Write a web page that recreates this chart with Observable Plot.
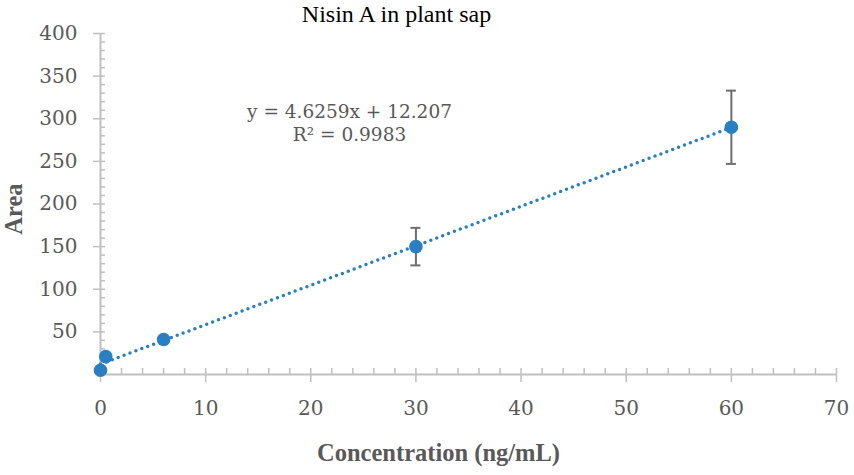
<!DOCTYPE html>
<html>
<head>
<meta charset="utf-8">
<script src="https://cdn.jsdelivr.net/npm/d3@7"></script>
<script src="https://cdn.jsdelivr.net/npm/@observablehq/plot@0.6"></script>
<style>
  html, body { margin: 0; padding: 0; background: white; }
</style>
</head>
<body>
<div id="chart"></div>
<script>
const title = "Nisin A in plant sap";
const xLabel = "Concentration (ng/mL)";
const yLabel = "Area";
const equation = "y = 4.6259x + 12.207\nR² = 0.9983";

const concentration = [0, 0.5, 6, 30, 60];
const area = [5, 21, 41, 150, 290];
const errorSd = [0, 0, 0, 22, 43];

const trendX = [0, 60];
const trendY = [12.2, 289.8];

const xMajor = [0, 10, 20, 30, 40, 50, 60, 70];
const xMinor = d3.range(0, 71, 2);
const yMajor = [50, 100, 150, 200, 250, 300, 350, 400];
const yMinor = d3.range(10, 401, 10);

const points = concentration.map((c, i) => ({x: c, y: area[i], lo: area[i] - errorSd[i], hi: area[i] + errorSd[i], e: errorSd[i]}));
const bars = points.filter(d => d.e > 0);
const trend = trendX.map((x, i) => ({x, y: trendY[i]}));

const axisGray = "#c0c0c0";
const textGray = "#595959";
const blue = "#2a7fc2";
const barGray = "#6e6e6e";

const chart = Plot.plot({
  width: 854,
  height: 475,
  marginLeft: 100,
  marginRight: 18,
  marginTop: 33,
  marginBottom: 101,
  x: {type: "linear", domain: [0, 70], label: null},
  y: {type: "linear", domain: [0, 400], label: null},
  style: {fontFamily: "DejaVu Serif", background: "white"},
  marks: [
    Plot.axisY({ticks: yMinor, tickSize: -5, text: null, stroke: axisGray, strokeWidth: 1.5, label: null}),
    Plot.axisY({ticks: yMajor, tickSize: 7, text: null, stroke: axisGray, strokeWidth: 1.5, label: null}),
    Plot.axisY({ticks: yMajor, tickSize: 0, tickPadding: 23, fill: textGray, fontSize: 20, label: null}),
    Plot.axisX({ticks: xMinor, tickSize: -6, text: null, stroke: axisGray, strokeWidth: 1.5, label: null}),
    Plot.axisX({ticks: xMajor, tickSize: 8, text: null, stroke: axisGray, strokeWidth: 1.5, label: null}),
    Plot.axisX({ticks: xMajor, tickSize: 0, tickPadding: 26, fill: textGray, fontSize: 20, label: null}),
    Plot.ruleX([0], {stroke: axisGray, strokeWidth: 2}),
    Plot.ruleY([0], {stroke: axisGray, strokeWidth: 2}),
    Plot.line(trend, {x: "x", y: "y", stroke: blue, strokeWidth: 3.5, strokeDasharray: "0,6.3", strokeLinecap: "round"}),
    Plot.ruleX(bars, {x: "x", y1: "lo", y2: "hi", stroke: barGray, strokeWidth: 2}),
    Plot.ruleY(bars, {y: "hi", x1: "x", x2: "x", insetLeft: -5, insetRight: -5, stroke: barGray, strokeWidth: 2}),
    Plot.ruleY(bars, {y: "lo", x1: "x", x2: "x", insetLeft: -5, insetRight: -5, stroke: barGray, strokeWidth: 2}),
    Plot.dot(points, {x: "x", y: "y", r: 6.8, fill: blue, stroke: "none"}),
    Plot.text([title], {frameAnchor: "top-left", dx: 296, dy: -19, textAnchor: "middle", lineAnchor: "middle", fontFamily: "Liberation Serif", fontSize: 24, fill: "black"}),
    Plot.text([equation], {frameAnchor: "top-left", dx: 249, dy: 88.5, textAnchor: "middle", lineAnchor: "middle", fontSize: 18.5, lineHeight: 1.25, fill: textGray}),
    Plot.text([xLabel], {frameAnchor: "bottom-left", dx: 338, dy: 79, textAnchor: "middle", lineAnchor: "middle", fontFamily: "Liberation Serif", fontWeight: "bold", fontSize: 24.5, fill: textGray}),
    Plot.text([yLabel], {frameAnchor: "left", dx: -86, dy: 5, rotate: -90, textAnchor: "middle", lineAnchor: "middle", fontFamily: "Liberation Serif", fontWeight: "bold", fontSize: 24.5, fill: textGray})
  ]
});
document.getElementById("chart").appendChild(chart);
</script>
</body>
</html>
